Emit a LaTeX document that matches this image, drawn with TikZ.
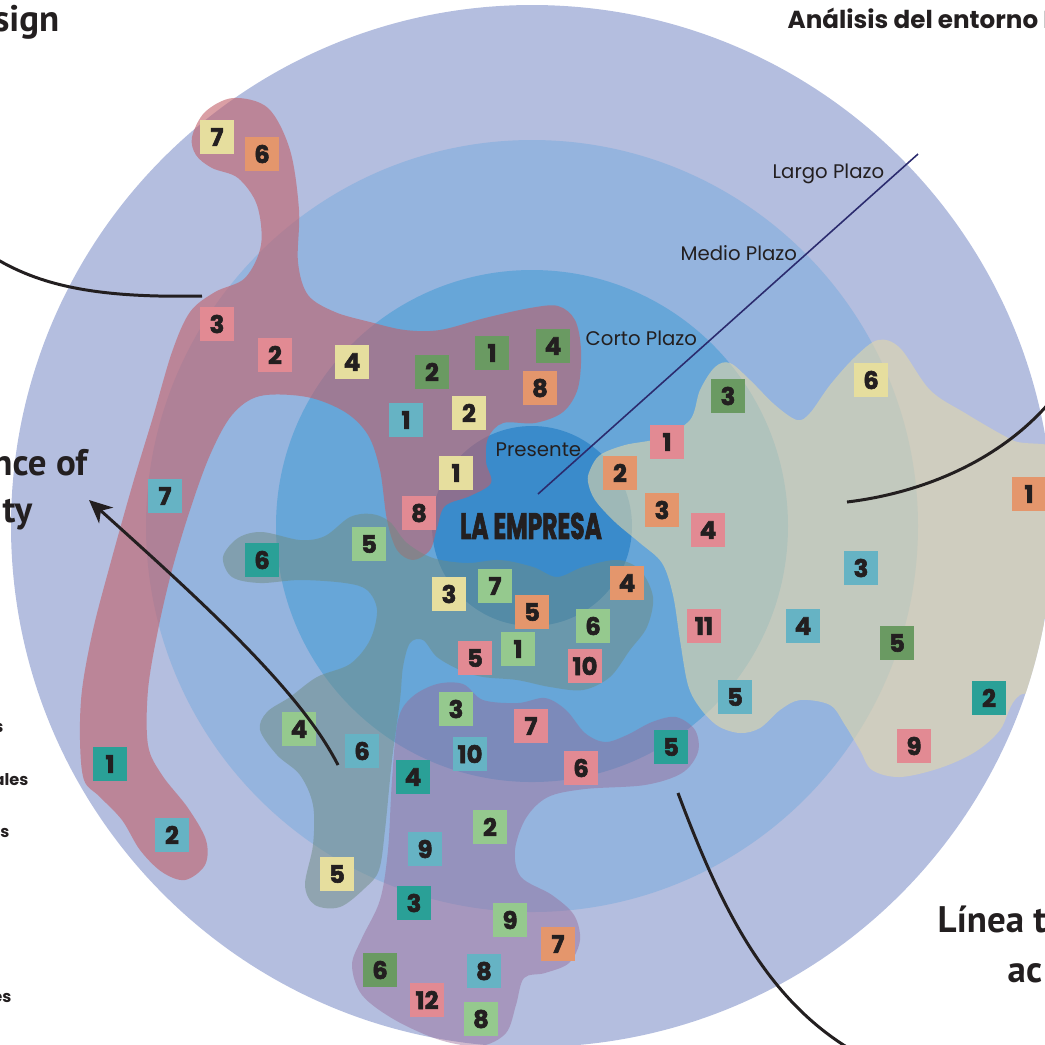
\documentclass[tikz,border=0pt]{standalone}
\usepackage{fontspec}
\usepackage{graphicx}
\usetikzlibrary{arrows.meta}
\newfontfamily\headfont{PT Sans}
\newfontfamily\geofont{Poppins}
\newfontfamily\heavyfont{Poppins}[BoldFeatures={FakeBold=2.4}]

\definecolor{ink}{HTML}{231F20}
\definecolor{navy}{HTML}{2B2B6E}
\definecolor{ringLargo}{HTML}{B4BEDF}
\definecolor{ringMedio}{HTML}{95B4DE}
\definecolor{ringCorto}{HTML}{67A6D8}
\definecolor{ringPres}{HTML}{3A8BCB}
\definecolor{blobRed}{RGB}{193,95,105}
\definecolor{blobTeal}{RGB}{110,140,130}
\definecolor{blobPurple}{RGB}{150,105,150}
\definecolor{blobSand}{RGB}{225,215,170}
\definecolor{cYel}{HTML}{E6DE9E}
\definecolor{cOra}{HTML}{E4966C}
\definecolor{cPink}{HTML}{E28A93}
\definecolor{cSky}{HTML}{66B3C4}
\definecolor{cLgr}{HTML}{95C98E}
\definecolor{cDgr}{HTML}{6A9A62}
\definecolor{cTea}{HTML}{2AA097}

\tikzset{
  badge/.style={draw=none, minimum size=0.34cm, inner sep=0pt, text=ink,
    font=\heavyfont\bfseries\fontsize{6.9}{7.5}\selectfont},
  heading/.style={inner sep=0pt, text=ink, font=\headfont\bfseries\fontsize{10.5}{12}\selectfont},
  ringlabel/.style={inner sep=0pt, text=ink, font=\geofont\fontsize{5.6}{6.5}\selectfont},
  sidelabel/.style={inner sep=0pt, text=ink, font=\geofont\bfseries\fontsize{4.6}{5.5}\selectfont},
  callout/.style={draw=ink, line width=0.85pt},
  blob/.style={draw=none, opacity=0.6},
}

\begin{document}
\begin{tikzpicture}[x=0.01cm, y=-0.01cm]
\useasboundingbox (0,0) rectangle (1045,1044);

% concentric time horizons
\fill[ringLargo] (532,526) circle (521);
\fill[ringMedio] (532,526) circle (386);
\fill[ringCorto] (532,526) circle (256);
\fill[ringPres]  (532,526) circle (100);

% factor clusters
\fill[blobRed, blob] plot[smooth cycle, tension=0.55] coordinates {
 (192,137) (205,112) (233,98) (268,108) (290,150) (299,210) (298,262) (308,295)
 (335,312) (370,322) (405,330) (440,330) (485,318) (530,308) (558,306) (575,320)
 (581,350) (578,388) (563,412) (535,423) (503,423) (488,438) (486,462) (491,483)
 (470,496) (445,506) (437,528) (430,550) (413,560) (397,550) (387,520) (380,470)
 (368,435) (345,412) (307,397) (260,396) (232,415) (210,455) (190,510) (172,570)
 (158,630) (148,690) (148,745) (162,775) (188,808) (206,840) (205,865) (185,880)
 (162,872) (140,850) (122,820) (100,797) (84,780) (80,740) (82,690) (93,630)
 (110,565) (133,483) (153,417) (172,352) (190,312) (215,292) (245,278) (261,245)
 (257,205) (238,178) (212,168) (196,155)};

\fill[blobTeal, blob, opacity=0.5] plot[smooth cycle, tension=0.55] coordinates {
 (223,557) (238,538) (262,532) (300,540) (325,536) (350,517) (372,514) (390,522)
 (407,543) (433,558) (467,563) (500,560) (533,567) (557,577) (583,567) (617,560)
 (640,570) (653,597) (647,627) (630,650) (610,677) (583,690) (550,687) (517,680)
 (483,677) (460,670) (437,657) (423,640) (410,643) (403,667) (400,700) (392,760)
 (385,830) (379,870) (365,888) (340,907) (315,905) (305,885) (313,845) (313,805)
 (300,775) (277,755) (260,730) (267,712) (290,697) (317,677) (350,664) (370,640)
 (377,610) (367,590) (345,583) (300,580) (260,583) (232,577)};

\fill[blobPurple, blob, opacity=0.45] plot[smooth cycle, tension=0.55] coordinates {
 (398,720) (412,697) (437,684) (463,684) (483,700) (518,703) (545,698) (566,710)
 (585,733) (605,742) (627,735) (652,722) (676,717) (695,730) (698,752) (682,773)
 (645,785) (585,789) (548,797) (526,818) (515,850) (521,877) (552,895) (574,915)
 (580,940) (569,963) (545,973) (524,978) (516,1005) (506,1033) (480,1046) (440,1040)
 (395,1020) (362,995) (352,965) (362,938) (380,900) (388,850) (392,780)};

\begin{scope}
\clip (532,526) circle (521);
\fill[blobSand, blob] plot[smooth cycle, tension=0.55] coordinates {
 (590,470) (600,455) (625,445) (660,438) (690,420) (700,390) (715,367) (730,363)
 (750,380) (775,405) (797,420) (810,413) (830,385) (855,357) (878,340) (900,348)
 (930,390) (965,413) (1012,440) (1075,470) (1075,680) (1020,695) (1000,730)
 (975,752) (940,768) (900,777) (872,770) (860,750) (845,725) (830,705) (800,700)
 (780,710) (760,728) (740,733) (718,726) (700,708) (688,685) (680,640) (673,595)
 (662,563) (640,543) (615,522) (595,500) (588,482)};
\end{scope}

% horizon axis and labels
\coordinate (axisA) at (538,494);
\coordinate (axisB) at (918,154);
\draw[navy, line width=0.45pt] (axisA) -- (axisB);
\node[ringlabel, anchor=base west] (tLargo) at (772,178) {Largo Plazo};
\node[ringlabel, anchor=base west] (tMedio) at (680,260) {Medio Plazo};
\node[ringlabel, anchor=base west] (tCorto) at (585,345) {Corto Plazo};
\node[ringlabel, anchor=base west] (tPres) at (495,456) {Presente};
\node[inner sep=0pt, text=ink] (core) at (531,526)
  {\scalebox{0.64}[1]{\heavyfont\bfseries\fontsize{10.4}{12}\selectfont LA EMPRESA}};

% headings
\node[heading, anchor=base east] (hSign) at (60,31) {sign};
\node[heading, anchor=base east] (hOf) at (88,475) {nce of};
\node[heading, anchor=base east] (hTy) at (33,522) {ty};
\node[heading, anchor=base west] (hLinea) at (937,932) {Línea t};
\node[heading, anchor=base west] (hAc) at (1007,982) {ac};
\node[inner sep=0pt, text=ink, anchor=base west, font=\geofont\bfseries\fontsize{7}{8}\selectfont]
  (hAnal) at (787,28) {Análisis del entorno E};
\node[sidelabel, anchor=base east] (s1) at (4,732) {s};
\node[sidelabel, anchor=base east] (s2) at (29,785) {ales};
\node[sidelabel, anchor=base east] (s3) at (10,837) {os};
\node[sidelabel, anchor=base east] (s4) at (12,1002) {es};

% numbered factors
\node[badge, fill=cYel]  (r7)  at (217,137) {7};
\node[badge, fill=cOra]  (r6)  at (262,154) {6};
\node[badge, fill=cPink] (r3)  at (217,324) {3};
\node[badge, fill=cPink] (r2)  at (275,355) {2};
\node[badge, fill=cYel]  (r4)  at (352,362) {4};
\node[badge, fill=cDgr]  (r2b) at (432,372) {2};
\node[badge, fill=cDgr]  (r1)  at (492,353) {1};
\node[badge, fill=cDgr]  (r4b) at (553,346) {4};
\node[badge, fill=cOra]  (r8)  at (540,388) {8};
\node[badge, fill=cSky]  (r1b) at (406,420) {1};
\node[badge, fill=cYel]  (r2c) at (469,413) {2};
\node[badge, fill=cYel]  (r1c) at (456,473) {1};
\node[badge, fill=cPink] (r8b) at (419,513) {8};
\node[badge, fill=cSky]  (r7b) at (165,496) {7};
\node[badge, fill=cTea]  (r1d) at (110,764) {1};
\node[badge, fill=cSky]  (r2d) at (172,835) {2};

\node[badge, fill=cTea]  (t6)  at (262,560) {6};
\node[badge, fill=cLgr]  (t5)  at (369,544) {5};
\node[badge, fill=cYel]  (t3)  at (449,594) {3};
\node[badge, fill=cLgr]  (t7)  at (495,586) {7};
\node[badge, fill=cOra]  (t5b) at (532,612) {5};
\node[badge, fill=cOra]  (t4)  at (627,583) {4};
\node[badge, fill=cLgr]  (t6b) at (593,626) {6};
\node[badge, fill=cPink] (t5c) at (475,658) {5};
\node[badge, fill=cLgr]  (t1)  at (518,649) {1};
\node[badge, fill=cPink] (t10) at (585,666) {10};
\node[badge, fill=cLgr]  (t4b) at (299,729) {4};
\node[badge, fill=cSky]  (t6c) at (362,751) {6};
\node[badge, fill=cYel]  (t5d) at (337,874) {5};

\node[badge, fill=cLgr]  (p3)  at (456,709) {3};
\node[badge, fill=cPink] (p7)  at (531,726) {7};
\node[badge, fill=cSky]  (p10) at (470,754) {10};
\node[badge, fill=cPink] (p6)  at (581,768) {6};
\node[badge, fill=cTea]  (p5)  at (671,747) {5};
\node[badge, fill=cTea]  (p4)  at (413,777) {4};
\node[badge, fill=cLgr]  (p2)  at (490,827) {2};
\node[badge, fill=cSky]  (p9)  at (425,849) {9};
\node[badge, fill=cTea]  (p3b) at (414,903) {3};
\node[badge, fill=cLgr]  (p9b) at (510,920) {9};
\node[badge, fill=cOra]  (p7b) at (558,944) {7};
\node[badge, fill=cDgr]  (p6b) at (380,970) {6};
\node[badge, fill=cSky]  (p8)  at (484,971) {8};
\node[badge, fill=cPink] (p12) at (427,1000) {12};
\node[badge, fill=cLgr]  (p8b) at (481,1019) {8};

\node[badge, fill=cDgr]  (s3b) at (728,396) {3};
\node[badge, fill=cYel]  (s6)  at (871,380) {6};
\node[badge, fill=cPink] (s1b) at (667,442) {1};
\node[badge, fill=cOra]  (s2b) at (620,473) {2};
\node[badge, fill=cOra]  (s3c) at (662,510) {3};
\node[badge, fill=cPink] (s4b) at (708,530) {4};
\node[badge, fill=cPink] (s11) at (704,626) {11};
\node[badge, fill=cSky]  (s3d) at (861,568) {3};
\node[badge, fill=cSky]  (s4c) at (803,626) {4};
\node[badge, fill=cDgr]  (s5)  at (897,643) {5};
\node[badge, fill=cOra]  (s1c) at (1029,494) {1};
\node[badge, fill=cSky]  (s5b) at (735,697) {5};
\node[badge, fill=cTea]  (s2c) at (989,698) {2};
\node[badge, fill=cPink] (s9)  at (914,746) {9};

% callout lines
\coordinate (cA1) at (202,296);
\coordinate (cA2) at (-10,255);
\draw[callout] (cA1) .. controls (100,298) and (40,287) .. (cA2);
\coordinate (cB1) at (847,502);
\coordinate (cB2) at (1058,392);
\draw[callout] (cB1) .. controls (930,492) and (1010,455) .. (cB2);
\coordinate (cC1) at (338,765);
\coordinate (cC2) at (89,500);
\draw[callout, -{Stealth[length=2.3mm, width=2.1mm, inset=0.7mm]}] (cC1) .. controls (300,690) and (200,600) .. (cC2);
\coordinate (cD1) at (678,793);
\coordinate (cD2) at (855,1052);
\draw[callout] (cD1) .. controls (720,905) and (765,1000) .. (cD2);
\end{tikzpicture}
\end{document}
